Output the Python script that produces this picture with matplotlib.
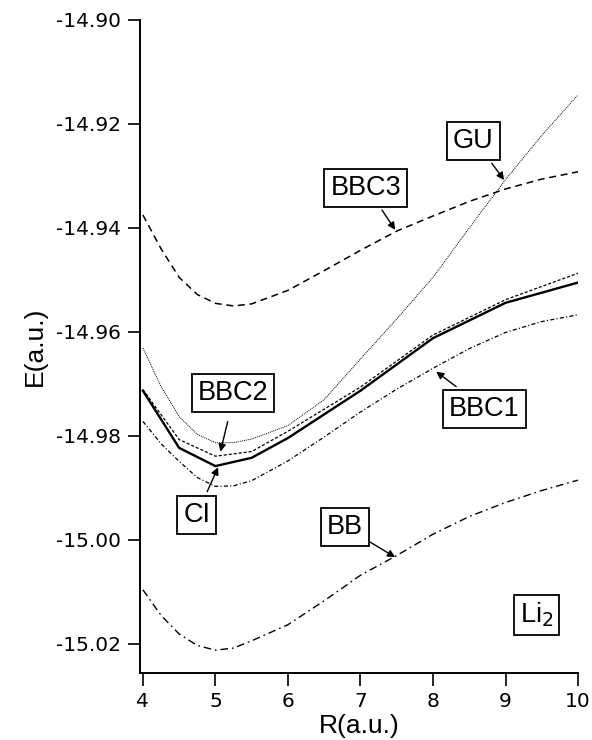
import matplotlib
matplotlib.use("Agg")
from matplotlib import pyplot as plt

plt.rcParams['axes.unicode_minus'] = False
plt.rcParams['lines.scale_dashes'] = False

# bond length grids (a.u.)
R = [4.0, 4.5, 5.0, 5.5, 6.0, 7.0, 8.0, 9.0, 10.0]
R_fine = [4.0, 4.25, 4.5, 4.75, 5.0, 5.25, 5.5, 6.0, 6.5, 7.0, 7.5, 8.0, 8.5, 9.0, 9.5, 10.0]

# total energies (a.u.)
E_CI = [-14.9713, -14.9823, -14.9858, -14.9842, -14.9804, -14.9713, -14.9612, -14.9544, -14.9505]
E_BBC2 = [-14.9711, -14.9807, -14.9839, -14.9830, -14.9791, -14.9706, -14.9606, -14.9538, -14.9487]
E_GU = [-14.9631, -14.9705, -14.9763, -14.9797, -14.9813, -14.9813, -14.9806, -14.9780,
        -14.9730, -14.9652, -14.9575, -14.9495, -14.9400, -14.9307, -14.9222, -14.9144]
E_BBC1 = [-14.9772, -14.9815, -14.9849, -14.9880, -14.9897, -14.9896, -14.9886, -14.9848,
          -14.9802, -14.9754, -14.9710, -14.9670, -14.9632, -14.9601, -14.9580, -14.9567]
E_BBC3 = [-14.9375, -14.9440, -14.9495, -14.9528, -14.9545, -14.9550, -14.9546, -14.9520,
          -14.9482, -14.9443, -14.9406, -14.9377, -14.9349, -14.9325, -14.9306, -14.9292]
E_BB = [-15.0096, -15.0145, -15.0181, -15.0203, -15.0212, -15.0208, -15.0194, -15.0163,
        -15.0117, -15.0068, -15.0030, -14.9989, -14.9955, -14.9928, -14.9905, -14.9885]

xticks = [4, 5, 6, 7, 8, 9, 10]
yticks = [-14.90, -14.92, -14.94, -14.96, -14.98, -15.00, -15.02]

fig = plt.figure(figsize=(5.92, 7.40), dpi=100)
ax = fig.add_axes([0.2365, 0.0905, 0.7399, 0.8825])

ax.plot(R, E_CI, color='black', lw=1.7, solid_joinstyle='miter')
ax.plot(R, E_BBC2, color='black', lw=0.9, dashes=(2.2, 1.4))
ax.plot(R_fine, E_GU, color='black', lw=0.7, dashes=(0.7, 0.7))
ax.plot(R_fine, E_BBC1, color='black', lw=0.9, dashes=(3.0, 1.6, 0.8, 1.6))
ax.plot(R_fine, E_BBC3, color='black', lw=1.1, dashes=(5.0, 3.4))
ax.plot(R_fine, E_BB, color='black', lw=1.0, dashes=(5.5, 2.8, 1.2, 2.8))

ax.set_xlim(3.96, 10.0)
ax.set_ylim(-15.0256, -14.90)
ax.set_xticks(xticks)
ax.set_yticks(yticks)
ax.set_yticklabels(['%.2f' % v for v in yticks])

for s in ['top', 'right']:
    ax.spines[s].set_visible(False)
for s in ['left', 'bottom']:
    ax.spines[s].set_linewidth(1.4)
ax.tick_params(direction='out', length=9, width=1.2, pad=5, labelsize=14.5)

ax.set_xlabel('R(a.u.)', fontsize=19, family='Liberation Sans', labelpad=2)
ax.set_ylabel('E(a.u.)', fontsize=19, family='Liberation Sans', labelpad=6)

box = dict(boxstyle='square,pad=0.22', fc='white', ec='black', lw=1.3)
labels = [
    ('BBC3', 7.073, -14.9324, (7.296, -14.93654), (7.479, -14.94038)),
    ('GU', 8.558, -14.92327, (8.811, -14.92756), (8.981, -14.93077)),
    ('BBC2', 5.241, -14.97179, (5.169, -14.97725), (5.069, -14.98302)),
    ('CI', 4.742, -14.99513, (4.886, -14.99071), (5.037, -14.98602)),
    ('BBC1', 8.708, -14.97490, (8.320, -14.97052), (8.044, -14.96763)),
    ('BB', 6.787, -14.99754, (7.098, -15.00013), (7.479, -15.00333)),
]
for name, tx, ty, start, tip in labels:
    ax.text(tx, ty, name, fontsize=19.5, family='Liberation Sans',
            ha='center', va='center', bbox=box, zorder=5)
    ax.annotate('', xy=tip, xytext=start,
                arrowprops=dict(arrowstyle='-|>', color='black', lw=1.0,
                                mutation_scale=11, shrinkA=0, shrinkB=0))

ax.text(9.431, -15.01448, 'Li$_2$', fontsize=19.5, family='Liberation Sans',
        ha='center', va='center', bbox=box, zorder=5)

fig.savefig('out.png', dpi=100)
